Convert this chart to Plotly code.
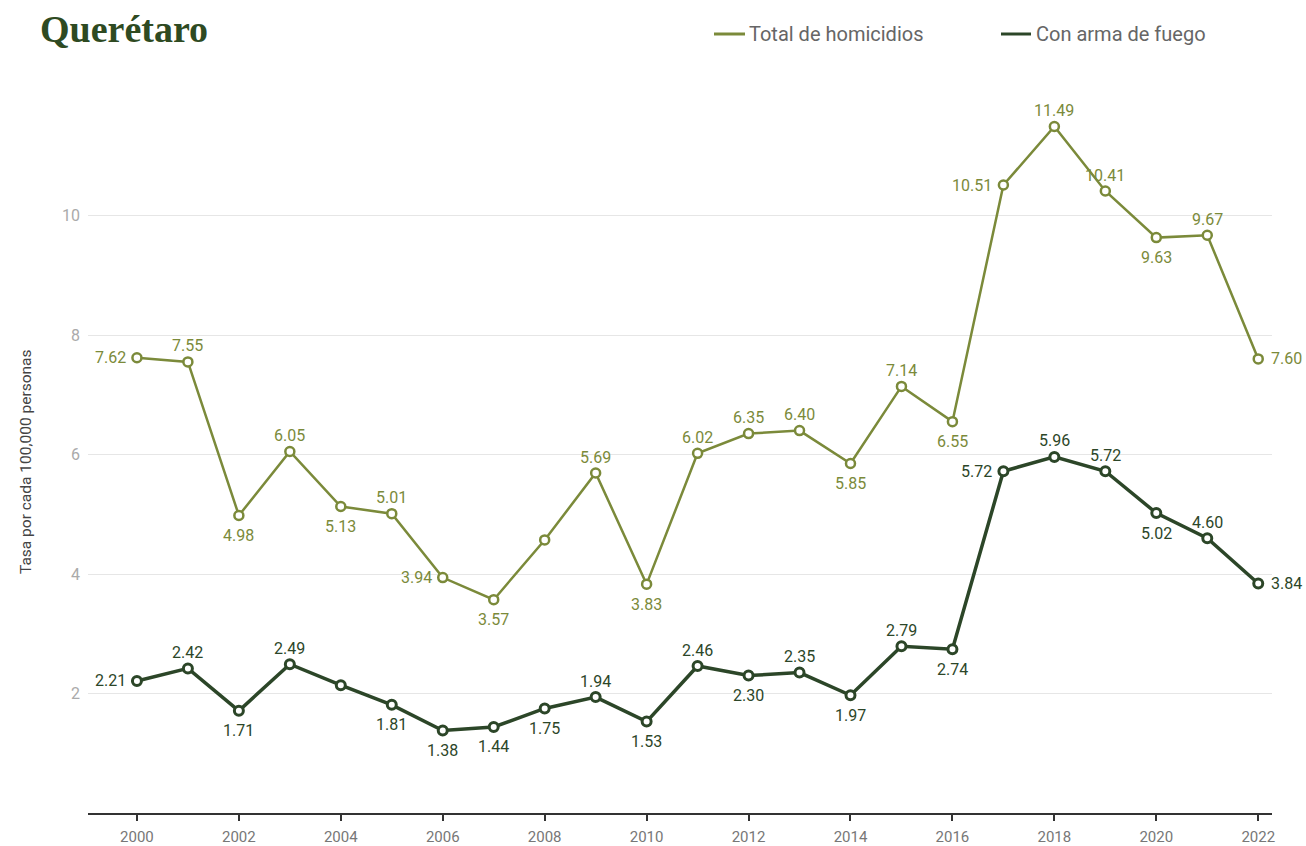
import plotly.graph_objects as go

years = list(range(2000, 2023))
total = [7.62, 7.55, 4.98, 6.05, 5.13, 5.01, 3.94, 3.57, 4.57, 5.69, 3.83, 6.02,
         6.35, 6.40, 5.85, 7.14, 6.55, 10.51, 11.49, 10.41, 9.63, 9.67, 7.60]
firearm = [2.21, 2.42, 1.71, 2.49, 2.14, 1.81, 1.38, 1.44, 1.75, 1.94, 1.53, 2.46,
           2.30, 2.35, 1.97, 2.79, 2.74, 5.72, 5.96, 5.72, 5.02, 4.60, 3.84]
hide_total = {8}
hide_firearm = {4}

# label placement: l=left, r=right, t=top, b=bottom
total_pos = list("ltbtbtlbttbtttbtbltbtbr".replace("b", "b"))
total_pos = ["l", "t", "b", "t", "b", "t", "l", "b", "t", "t", "b", "t",
             "t", "t", "b", "t", "b", "l", "t", "t", "b", "t", "r"]
firearm_pos = ["l", "t", "b", "t", "b", "b", "b", "b", "b", "t", "b", "t",
               "b", "t", "b", "t", "b", "l", "t", "t", "b", "t", "r"]

C_TOTAL = "#7b8a3a"
C_FIRE = "#2c4628"
W, H = 1306, 846
ml, mt = 88, 70
mr = W - 1272
mb = H - 813
pw, ph = W - ml - mr, H - mt - mb


def px(x):
    return (x - ml) / pw


def py(y):
    return (H - mb - y) / ph


PLACE = {
    "t": dict(xanchor="center", yanchor="middle", xshift=0, yshift=16),
    "b": dict(xanchor="center", yanchor="middle", xshift=0, yshift=-20),
    "l": dict(xanchor="right", yanchor="middle", xshift=-9, yshift=0),
    "r": dict(xanchor="left", yanchor="middle", xshift=11, yshift=0),
}


def label_annotations(xs, vals, pos, hide, color):
    out = []
    for i, (x, v, p) in enumerate(zip(xs, vals, pos)):
        if i in hide:
            continue
        out.append(dict(x=x, y=v, xref="x", yref="y", text=f"{v:.2f}", showarrow=False,
                        font=dict(family="Roboto", size=16, color=color), **PLACE[p]))
    return out


fig = go.Figure()
fig.add_trace(go.Scatter(
    x=years, y=total, mode="lines+markers", name="Total de homicidios",
    line=dict(color=C_TOTAL, width=2.5),
    marker=dict(size=9, color="white", line=dict(color=C_TOTAL, width=2.5)),
    showlegend=False, cliponaxis=False, hoverinfo="skip"))
fig.add_trace(go.Scatter(
    x=years, y=firearm, mode="lines+markers", name="Con arma de fuego",
    line=dict(color=C_FIRE, width=3.5),
    marker=dict(size=9, color="white", line=dict(color=C_FIRE, width=3)),
    showlegend=False, cliponaxis=False, hoverinfo="skip"))

shapes = [
    dict(type="line", xref="paper", yref="paper", x0=px(714), x1=px(745), y0=py(34), y1=py(34),
         line=dict(color=C_TOTAL, width=3)),
    dict(type="line", xref="paper", yref="paper", x0=px(1001), x1=px(1031), y0=py(34), y1=py(34),
         line=dict(color=C_FIRE, width=3)),
]
annotations = [
    dict(text="Total de homicidios", xref="paper", yref="paper", x=px(747), y=py(34),
         xanchor="left", yanchor="middle", showarrow=False,
         font=dict(family="Roboto", size=20, color="#666666")),
    dict(text="Con arma de fuego", xref="paper", yref="paper", x=px(1034), y=py(34),
         xanchor="left", yanchor="middle", showarrow=False,
         font=dict(family="Roboto", size=20, color="#666666")),
    dict(text="<b>Querétaro</b>", xref="paper", yref="paper", x=px(38), y=py(29),
         xanchor="left", yanchor="middle", showarrow=False,
         font=dict(family="Liberation Serif", size=38, color="#2e4a22")),
    dict(text="Tasa por cada 100,000 personas", xref="paper", yref="paper", x=px(26), y=py(462),
         xanchor="center", yanchor="middle", showarrow=False, textangle=-90,
         font=dict(family="Roboto", size=15.5, color="#444444")),
]
annotations += label_annotations(years, total, total_pos, hide_total, C_TOTAL)
annotations += label_annotations(years, firearm, firearm_pos, hide_firearm, C_FIRE)

fig.update_layout(
    width=W, height=H, margin=dict(l=ml, r=mr, t=mt, b=mb, autoexpand=False),
    paper_bgcolor="white", plot_bgcolor="white", hovermode=False,
    shapes=shapes, annotations=annotations,
    xaxis=dict(range=[1999.04, 2022.27], tickvals=list(range(2000, 2023, 2)), automargin=False,
               showgrid=False, zeroline=False, showline=True, linecolor="#333333", linewidth=1.5,
               ticks="outside", ticklen=6, tickcolor="#333333", tickwidth=1.5,
               ticklabelstandoff=3,
               tickfont=dict(family="Roboto", size=15, color="#777777")),
    yaxis=dict(range=[0, ph / 59.75], tickvals=[2, 4, 6, 8, 10], showgrid=True, automargin=False,
               gridcolor="#e6e6e6", gridwidth=1, zeroline=False, showline=False,
               ticks="", ticklabelstandoff=7,
               tickfont=dict(family="Roboto", size=16, color="#aaaaaa")),
)
fig.write_html("out.html", config={"displayModeBar": False},
               post_script="document.body.style.margin='0';document.body.style.overflow='hidden';")
